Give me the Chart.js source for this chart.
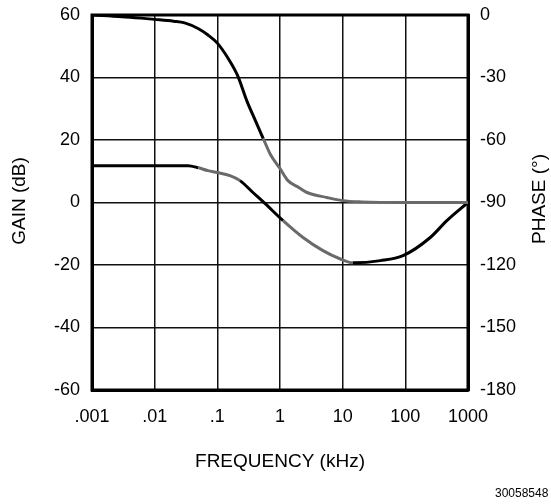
<!DOCTYPE html>
<html><head><meta charset="utf-8">
<script src="https://cdn.jsdelivr.net/npm/chart.js@4"></script>
<style>html,body{margin:0;padding:0;background:#fff}canvas{display:block}</style>
</head><body><canvas id="c" width="551" height="504"></canvas>
<script>
const freqTicks=[0.001,0.01,0.1,1,10,100,1000];
const freqTickLabels=['.001','.01','.1','1','10','100','1000'];
const gainTicks=[-60,-40,-20,0,20,40,60];
const phaseTicks=[-180,-150,-120,-90,-60,-30,0];

const phaseFreq=[0.001,0.003,0.006,0.01,0.02,0.03,0.05,0.07,0.1,0.15,0.21,0.3,0.4,0.54,0.7,1,1.34,2,2.7,5.6,10,20,100,1000];
const phaseDeg=[0,-0.8,-1.5,-2.1,-3,-3.8,-6.6,-9.5,-13.5,-21,-29,-41.7,-50.3,-59.3,-66.8,-73.7,-79.5,-82.8,-85.2,-87.6,-89.1,-89.7,-90,-90];

const gainFreq=[0.001,0.01,0.034,0.05,0.071,0.1,0.159,0.23,0.37,0.575,1.12,2.33,4.85,9,14.6,40,92,250,460,1000];
const gainDb=[11.8,11.8,11.8,11.1,10.2,9.6,8.6,7,3.2,-0.3,-5.8,-11.2,-15.4,-18,-19.3,-18.6,-17,-11.2,-5.8,0];

const BLACK='#000', GRAY='#6a6a6a';
function phaseColor(x){ return (x>=0.54 && x<500)?GRAY:BLACK; }
function gainColor(x){ if(x>=0.05&&x<0.2) return GRAY; if(x>=0.6&&x<14) return GRAY; return BLACK; }

const FONT='"Liberation Sans", Arial, sans-serif';

const framePlugin={
  id:'frame',
  beforeDatasetsDraw(chart){
    const {ctx,chartArea:a}=chart;
    ctx.save();ctx.strokeStyle='#000';ctx.lineWidth=3;
    ctx.strokeRect(a.left,a.top,a.right-a.left,a.bottom-a.top);
    ctx.restore();
  },
  afterDraw(chart){
    const {ctx}=chart;
    ctx.save();
    ctx.fillStyle='#000';
    ctx.font='19px '+FONT;
    ctx.textAlign='center';ctx.textBaseline='middle';
    ctx.save();ctx.translate(20,201);ctx.rotate(-Math.PI/2);ctx.fillText('GAIN (dB)',0,0);ctx.restore();
    ctx.save();ctx.translate(540,199);ctx.rotate(-Math.PI/2);ctx.fillText('PHASE (°)',0,0);ctx.restore();
    ctx.fillText('FREQUENCY (kHz)',280,462);
    ctx.font='12px '+FONT;ctx.textAlign='left';
    ctx.fillText('30058548',495,494);
    ctx.restore();
  }
};
const noPad=s=>{s.paddingTop=0;s.paddingBottom=0;};

new Chart(document.getElementById('c'),{
  type:'line',
  data:{datasets:[
    {label:'Phase',yAxisID:'y2',data:phaseFreq.map((f,i)=>({x:f,y:phaseDeg[i]})),
     borderColor:BLACK,borderWidth:3,pointRadius:0,cubicInterpolationMode:'monotone',
     segment:{borderColor:c=>phaseColor(c.p0.parsed.x)}},
    {label:'Gain',yAxisID:'y',data:gainFreq.map((f,i)=>({x:f,y:gainDb[i]})),
     borderColor:BLACK,borderWidth:3,pointRadius:0,cubicInterpolationMode:'monotone',
     segment:{borderColor:c=>gainColor(c.p0.parsed.x)}}
  ]},
  options:{
    responsive:false,animation:false,
    layout:{padding:{top:15,left:0,right:0,bottom:0}},
    plugins:{legend:{display:false},tooltip:{enabled:false}},
    scales:{
      x:{type:'logarithmic',position:'bottom',min:0.001,max:1000,
        afterBuildTicks:ax=>{ax.ticks=freqTicks.map(v=>({value:v}));},
        afterFit:s=>{s.height=114;},
        ticks:{callback:(v)=>{const i=freqTicks.findIndex(t=>Math.abs(t-v)/t<1e-6);return i>=0?freqTickLabels[i]:'';},
          font:{size:18,family:FONT},color:'#000',padding:16,maxRotation:0,autoSkip:false},
        grid:{color:'#111',lineWidth:1.5,drawTicks:false},
        border:{display:true,color:'#000',width:3}},
      y:{position:'left',min:-60,max:60,
        afterBuildTicks:ax=>{ax.ticks=gainTicks.map(v=>({value:v}));},
        afterFit:s=>{s.width=92;noPad(s);},
        ticks:{font:{size:18,family:FONT},color:'#000',padding:12},
        grid:{color:'#111',lineWidth:1.5,drawTicks:false},
        border:{display:true,color:'#000',width:3}},
      y2:{position:'right',min:-180,max:0,
        afterBuildTicks:ax=>{ax.ticks=phaseTicks.map(v=>({value:v}));},
        afterFit:s=>{s.width=83;noPad(s);},
        ticks:{font:{size:18,family:FONT},color:'#000',padding:12},
        grid:{display:false,drawTicks:false},
        border:{display:true,color:'#000',width:3}}
    }
  },
  plugins:[framePlugin]
});
</script></body></html>
